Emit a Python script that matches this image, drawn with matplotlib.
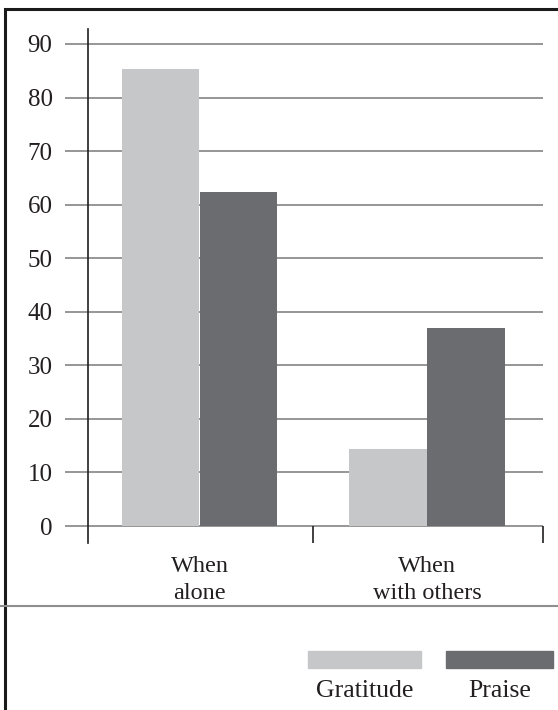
import matplotlib.pyplot as plt
from matplotlib.patches import Rectangle
from matplotlib.lines import Line2D

categories = ['When\nalone', 'When\nwith others']
gratitude = [85.3, 14.3]
praise = [62.3, 36.9]
yticks = [0, 10, 20, 30, 40, 50, 60, 70, 80, 90]
series_names = ['Gratitude', 'Praise']

light = '#c6c7c9'
dark = '#6b6c70'
gridc = '#8e8e8e'
textc = '#231f20'

plt.rcParams['font.family'] = ['Liberation Serif', 'DejaVu Serif']

W, H = 558, 710
fig = plt.figure(figsize=(W / 100, H / 100), dpi=100)

def fx(px):
    return px / W

def fy(py):
    return 1 - py / H

ax = fig.add_axes([fx(88), fy(543), fx(543) - fx(88), fy(29) - fy(543)])

x = [0, 1]
w = 0.34
ax.bar([i - 0.172 for i in x], gratitude, width=w, color=light, zorder=3)
ax.bar([i + 0.172 for i in x], praise, width=w, color=dark, zorder=3)

xmin, xmax = -0.49, 1.51
ax.set_xlim(xmin, xmax)
ax.set_ylim(-3.17, 92.8)

ax.set_yticks(yticks)
ax.set_yticklabels([str(v) for v in yticks], fontsize=18, color=textc)
ax.yaxis.grid(True, color=gridc, linewidth=1.3, zorder=0)
ax.tick_params(axis='y', length=16.5, width=1.3, color=gridc, pad=9)

ax.set_xticks(x)
ax.set_xticklabels(categories, fontsize=17.5, color=textc, linespacing=1.4)
ax.tick_params(axis='x', length=0, pad=9)

# category separators below the baseline
ax.vlines([0.5, xmax], -3.17, 0, color=textc, linewidth=1.2, clip_on=False)

for s in ['top', 'right', 'bottom']:
    ax.spines[s].set_visible(False)
ax.spines['left'].set_color(textc)
ax.spines['left'].set_linewidth(1.2)

# legend drawn under the separator line
fig.add_artist(Line2D([0, 1], [fy(606), fy(606)], color=gridc, linewidth=1.5))
swatches = [(308, 421, light), (446, 553, dark)]
for (x0, x1, c), name in zip(swatches, series_names):
    fig.add_artist(Rectangle((fx(x0), fy(668)), fx(x1) - fx(x0), fy(651) - fy(668),
                             color=c, transform=fig.transFigure))
    fig.text(fx((x0 + x1) / 2), fy(697), name, ha='center', va='baseline',
             fontsize=18.5, color=textc)

# frame around the whole figure
fig.add_artist(Rectangle((fx(5), -0.2), 1.2, fy(9) + 0.2, fill=False,
                         edgecolor='#1a1a1a', linewidth=2.2, transform=fig.transFigure))

fig.savefig('out.png', dpi=100)
